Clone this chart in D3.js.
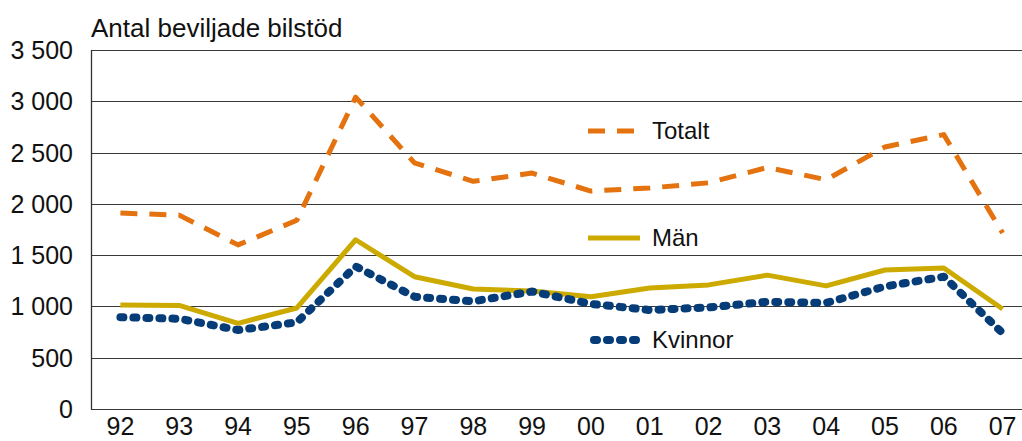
<!DOCTYPE html>
<html>
<head>
<meta charset="utf-8">
<script src="https://cdn.jsdelivr.net/npm/d3@7"></script>
<style>
  body { margin: 0; background: #fff; }
  svg { display: block; font-family: "Liberation Sans", Arial, sans-serif; }
</style>
</head>
<body>
<svg id="chart" width="1022" height="441"></svg>
<script>
const years = ["92", "93", "94", "95", "96", "97", "98", "99", "00", "01", "02", "03", "04", "05", "06", "07"];
const totalt = [1910, 1890, 1600, 1840, 3040, 2400, 2220, 2300, 2125, 2155, 2205, 2355, 2235, 2555, 2675, 1715];
const man = [1015, 1010, 835, 985, 1650, 1290, 1170, 1150, 1095, 1180, 1210, 1305, 1200, 1355, 1375, 975];
const kvinnor = [895, 880, 770, 845, 1390, 1095, 1050, 1145, 1025, 965, 990, 1045, 1035, 1195, 1290, 740];
const yTicks = [0, 500, 1000, 1500, 2000, 2500, 3000, 3500];

const svg = d3.select("#chart");
const plotLeft = 91, plotRight = 1032, plotTop = 50, plotBottom = 409;

const x = d3.scaleBand().domain(years).range([plotLeft, plotRight]);
const y = d3.scaleLinear().domain([0, 3500]).range([plotBottom, plotTop]);
const fmt = d3.formatLocale({ decimal: ",", thousands: " ", grouping: [3], currency: ["", " kr"] }).format(",d");

// grid
svg.append("g")
  .selectAll("line")
  .data(yTicks)
  .enter()
  .append("line")
  .attr("x1", plotLeft)
  .attr("x2", 1022)
  .attr("y1", (d) => Math.round(y(d)) + 0.5)
  .attr("y2", (d) => Math.round(y(d)) + 0.5)
  .attr("stroke", "#3a3a3a")
  .attr("stroke-width", 1.2);

svg.append("line")
  .attr("x1", plotLeft + 0.5).attr("x2", plotLeft + 0.5)
  .attr("y1", plotTop).attr("y2", plotBottom + 1)
  .attr("stroke", "#333").attr("stroke-width", 1.3);

// y labels
svg.append("g")
  .selectAll("text")
  .data(yTicks)
  .enter()
  .append("text")
  .attr("x", 73)
  .attr("y", (d) => y(d) + 9)
  .attr("text-anchor", "end")
  .attr("font-size", 25)
  .attr("fill", "#111")
  .text((d) => fmt(d));

// x labels
svg.append("g")
  .selectAll("text")
  .data(years)
  .enter()
  .append("text")
  .attr("x", (d) => x(d) + x.bandwidth() / 2)
  .attr("y", 435)
  .attr("text-anchor", "middle")
  .attr("font-size", 25)
  .attr("fill", "#111")
  .text((d) => d);

svg.append("text")
  .attr("x", 91)
  .attr("y", 37)
  .attr("font-size", 26)
  .attr("fill", "#111")
  .text("Antal beviljade bilstöd");

const series = [
  { name: "Totalt", values: totalt, color: "#E3720F", width: 5, dash: "17 12", cap: "butt", ly: 131 },
  { name: "Män", values: man, color: "#CCAA00", width: 5, dash: null, cap: "butt", ly: 238 },
  { name: "Kvinnor", values: kvinnor, color: "#063D78", width: 8, dash: "3 10", cap: "round", ly: 340 }
];

const line = d3.line()
  .x((d, i) => x(years[i]) + x.bandwidth() / 2)
  .y((d) => y(d));

series.forEach((s) => {
  svg.append("path")
    .attr("d", line(s.values))
    .attr("fill", "none")
    .attr("stroke", s.color)
    .attr("stroke-width", s.width)
    .attr("stroke-linecap", s.cap)
    .attr("stroke-linejoin", "round")
    .attr("stroke-dasharray", s.dash);

  svg.append("line")
    .attr("x1", s.name === "Kvinnor" ? 594 : 588)
    .attr("x2", 640)
    .attr("y1", s.ly)
    .attr("y2", s.ly)
    .attr("stroke", s.color)
    .attr("stroke-width", s.width)
    .attr("stroke-linecap", s.cap)
    .attr("stroke-dasharray", s.dash);

  svg.append("text")
    .attr("x", 652)
    .attr("y", s.ly + 8)
    .attr("font-size", 24)
    .attr("fill", "#111")
    .text(s.name);
});
</script>
</body>
</html>
